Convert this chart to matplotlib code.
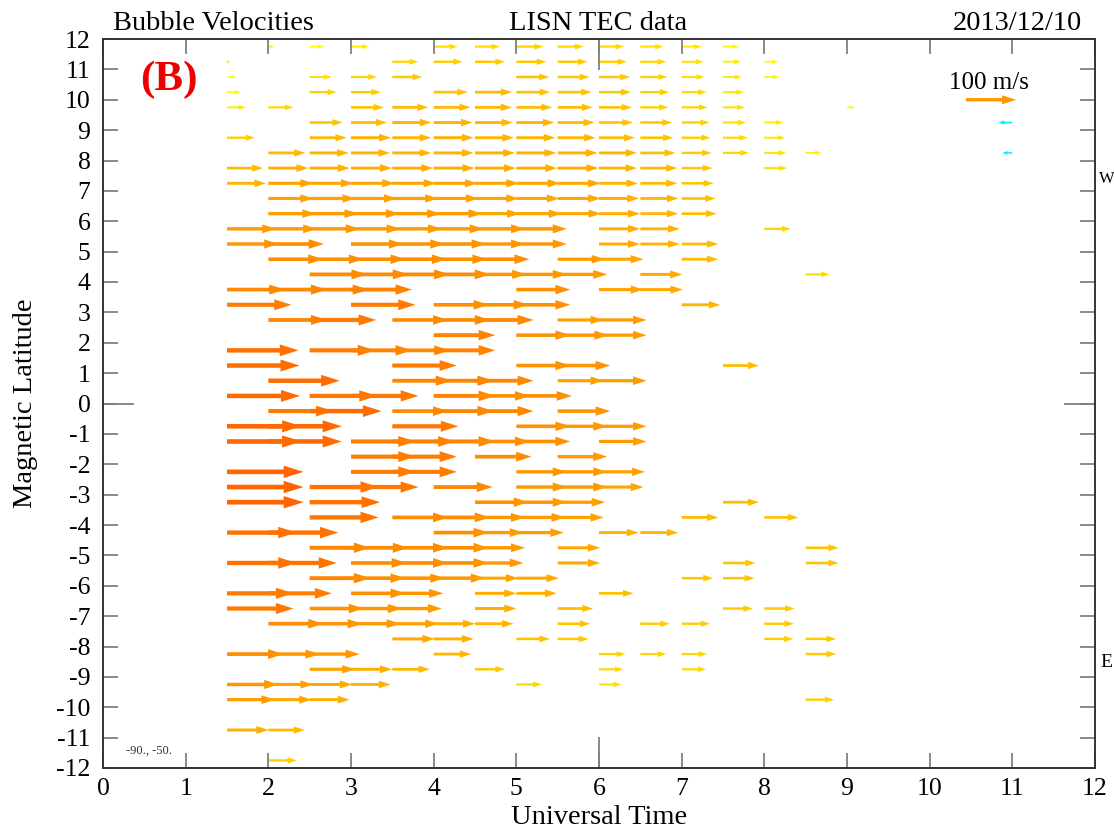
import numpy as np
import matplotlib
matplotlib.use("Agg")
import matplotlib.pyplot as plt
from matplotlib.colors import LinearSegmentedColormap
from matplotlib.ticker import FixedLocator

plt.rcParams['font.family'] = ['Liberation Serif', 'DejaVu Serif']
plt.rcParams['axes.unicode_minus'] = False

# start times (UT hours) of the arrow columns
start_times = [1.5, 2.0, 2.5, 3.0, 3.5, 4.0, 4.5, 5.0, 5.5, 6.0, 6.5, 7.0, 7.5, 8.0, 8.5, 9.0]

# magnetic latitude of each arrow row
latitudes = [11.75, 11.25, 10.75, 10.25, 9.75, 9.25, 8.75, 8.25, 7.75, 7.25,
             6.75, 6.25, 5.75, 5.25, 4.75, 4.25, 3.75, 3.25, 2.75, 2.25,
             1.75, 1.25, 0.75, 0.25, -0.25, -0.75, -1.25, -1.75, -2.25, -2.75,
             -3.25, -3.75, -4.25, -4.75, -5.25, -5.75, -6.25, -6.75, -7.25, -7.75,
             -8.25, -8.75, -9.25, -9.75, -10.25, -10.75, -11.25, -11.75]

_ = None
# zonal drift speed (m/s), one row per latitude, one column per start time
speeds = [
    [_, 12, 28, 36, _, 48, 50, 54, 52, 50, 46, 40, 32, _, _, _],
    [8, _, _, _, 52, 58, 60, 60, 60, 56, 52, 44, 36, 28, _, _],
    [18, _, 44, 52, 60, _, _, 66, 64, 62, 54, 46, 38, 30, _, _],
    [28, _, 54, 60, _, 68, 74, 68, 68, 64, 58, 50, 42, _, _, _],
    [38, 50, _, 66, 72, 74, 74, 72, 70, 66, 56, 52, 44, _, _, 16],
    [_, _, 66, 72, 78, 78, 76, 76, 74, 68, 64, 56, 46, 38, _, _],
    [56, _, 74, 80, 78, 80, 78, 78, 76, 72, 66, 58, 50, 42, _, _],
    [_, 74, 78, 78, 78, 80, 80, 80, 80, 76, 70, 60, 52, 44, 32, _],
    [72, 80, 80, 82, 82, 82, 82, 82, 82, 76, 74, 62, _, 46, _, _],
    [78, 90, 88, 88, 88, 88, 88, 88, 86, 78, 74, 64, _, _, _, _],
    [_, 90, 92, 92, 92, 90, 88, 86, 86, 80, 76, 68, _, _, _, _],
    [_, 95, 97, 97, 97, 97, 90, 91, 87, 82, 76, 70, _, _, _, _],
    [98, 97, 100, 99, 99, 100, 100, 101, _, 82, 79, _, _, 53, _, _],
    [103, 111, _, 105, 105, 105, 100, 101, _, 82, 79, 73, _, _, _, _],
    [_, 110, 108, 109, 109, 107, 109, _, 95, 89, _, 73, _, _, _, _],
    [_, _, 115, 115, 115, 113, 103, 101, 99, _, 84, _, _, _, 48, _],
    [116, 117, 118, 122, _, _, _, 108, _, 89, 85, _, _, _, _, _],
    [129, _, _, 129, _, 110, 107, 108, _, _, _, 77, _, _, _, _],
    [_, 117, 133, _, 112, 113, 117, _, 92, 95, _, _, _, _, _, _],
    [_, _, _, _, _, 123, _, 108, 102, 95, _, _, _, _, _, _],
    [143, _, 131, 122, 115, 123, _, _, _, _, _, _, _, _, _, _],
    [145, _, _, _, 129, _, _, 108, 105, _, _, _, 72, _, _, _],
    [_, 143, _, _, 119, 120, 117, _, 92, 95, _, _, _, _, _, _],
    [146, _, 135, 135, _, 123, 110, 111, _, _, _, _, _, _, _, _],
    [_, 130, 144, _, 112, 120, 117, _, 105, _, _, _, _, _, _, _],
    [149, 147, _, _, 132, _, _, 108, 99, 95, _, _, _, _, _, _],
    [149, 147, _, 129, 125, 123, 110, 108, _, 95, _, _, _, _, _, _],
    [_, _, _, 129, 129, _, 113, _, 99, _, _, _, _, _, _, _],
    [153, _, _, 129, 129, _, _, 101, 99, 92, _, _, _, _, _, _],
    [153, _, 138, 135, _, 118, _, 101, 99, 89, _, _, _, _, _, _],
    [153, _, 141, _, _, _, 107, 101, 95, _, _, _, 72, _, _, _],
    [_, _, 138, _, 112, 113, 100, 98, 92, _, _, 73, _, 68, _, _],
    [139, 140, _, _, _, 110, 97, 95, _, 79, 76, _, _, _, _, _],
    [_, _, 121, 115, 112, 110, 100, _, 85, _, _, _, _, _, 66, _],
    [139, 137, _, 112, 112, 110, 97, _, 85, _, _, _, 65, _, 66, _],
    [_, _, 121, 109, 105, 103, 87, 85, _, _, _, 63, 63, _, _, _],
    [133, 127, _, 109, 102, _, 83, 81, _, 69, _, _, _, _, _, _],
    [133, _, 108, 102, 99, _, 83, _, 71, _, _, _, 60, 61, _, _],
    [_, 110, 105, 99, 92, 83, 77, _, 65, _, 59, 57, _, 59, _, _],
    [_, _, _, _, 85, 80, _, 67, 62, _, _, _, _, 58, 61, _],
    [113, 103, 100, _, _, 75, _, _, _, 53, 52, 51, _, _, 61, _],
    [_, _, 91, 82, 75, _, 60, _, _, 49, _, 49, _, _, _, _],
    [103, 90, 85, 79, _, _, _, 51, _, 45, _, _, _, _, _, _],
    [96, 87, 80, _, _, _, _, _, _, _, _, _, _, _, 57, _],
    [_, _, _, _, _, _, _, _, _, _, _, _, _, _, _, _],
    [83, 73, _, _, _, _, _, _, _, _, _, _, _, _, _, _],
    [_, _, _, _, _, _, _, _, _, _, _, _, _, _, _, _],
    [_, 57, _, _, _, _, _, _, _, _, _, _, _, _, _, _],
]

# westward (negative) drifts seen at 11 UT
west_times = [11.0, 11.0]
west_lats = [9.25, 8.25]
west_speeds = [-28, -20]

ref_speed = 100  # legend arrow

# --- figure geometry (pixels of the 1114x831 picture)
W, H = 1114, 831
fig = plt.figure(figsize=(W / 100, H / 100), dpi=100)
ax = fig.add_axes([103 / W, 1 - 768 / H, 992 / W, 729 / H])
ax.set_xlim(0, 12)
ax.set_ylim(-12, 12)

px_x = 992 / 12      # pixels per hour
px_y = 729 / 24      # pixels per degree
px_per_ms = 0.5      # 100 m/s -> 50 px

speed_cmap = LinearSegmentedColormap.from_list(
    'drift', [(0.0, '#d8ff00'), (0.15, '#ffff00'), (0.35, '#ffd000'),
              (0.6, '#ff9c00'), (1.0, '#ff5e00')])


def arrow_color(v):
    if v < 0:
        return '#00f0ff'
    return speed_cmap(min(v / 160.0, 1.0))


def draw_arrow(t, lat, v):
    L = abs(v) * px_per_ms
    dx = np.sign(v) * L / px_x
    hl = (0.22 * L + 3.0) / px_x
    hw = (0.13 * L + 2.5) / px_y
    w = (0.048 * L + 1.0) / px_y
    ax.arrow(t, lat, dx, 0, width=w, head_width=hw, head_length=hl,
             length_includes_head=True, color=arrow_color(v), lw=0)


for lat, row in zip(latitudes, speeds):
    for t, v in zip(start_times, row):
        if v is not None:
            draw_arrow(t, lat, v)

for t, lat, v in zip(west_times, west_lats, west_speeds):
    draw_arrow(t, lat, v)

# legend arrow
draw_arrow(10.44, 10.0, ref_speed)
ax.text(10.72, 10.55, f'{ref_speed} m/s', ha='center', va='center', fontsize=18)

# axes styling (gnuplot-like inward ticks)
ax.set_xticks(range(0, 13))
ax.set_yticks(range(-12, 13))
ax.xaxis.set_minor_locator(FixedLocator([6]))
ax.yaxis.set_minor_locator(FixedLocator([0]))
ax.xaxis.remove_overlapping_locs = False
ax.yaxis.remove_overlapping_locs = False
ax.tick_params(which='major', direction='in', length=10.5, width=1.3,
               color='#808080', top=True, right=True, labelsize=18.5)
ax.tick_params(axis='x', which='major', pad=7)
ax.tick_params(axis='y', which='major', pad=9)
ax.tick_params(which='minor', direction='in', length=22, width=1.3,
               color='#808080', top=True, right=True)
for s in ax.spines.values():
    s.set_color('#333333')
    s.set_linewidth(1.4)

ax.set_xlabel('Universal Time', fontsize=20.5, labelpad=4)
ax.set_ylabel('Magnetic Latitude', fontsize=20.5)
ax.yaxis.set_label_coords(-0.066, 0.5)

# header texts
fig.text(113 / W, 1 - 30 / H, 'Bubble Velocities', ha='left', va='baseline', fontsize=20.5)
fig.text(598 / W, 1 - 30 / H, 'LISN TEC data', ha='center', va='baseline', fontsize=20.5)
fig.text(1082 / W, 1 - 30 / H, '2013/12/10', ha='right', va='baseline', fontsize=20.5)
fig.text(169 / W, 1 - 80 / H, '(B)', ha='center', va='center', fontsize=31,
         fontweight='bold', color='#ee0000')
fig.text(126 / W, 1 - 754 / H, '-90., -50.', ha='left', va='baseline', fontsize=9, color='#333333')
# side labels (cut by the page edge in the original, shrunk here to stay visible)
fig.text(1099 / W, 1 - 183 / H, 'W', ha='left', va='baseline', fontsize=12)
fig.text(1100 / W, 1 - 667 / H, 'E', ha='left', va='baseline', fontsize=14)

fig.savefig('out.png', dpi=100)
